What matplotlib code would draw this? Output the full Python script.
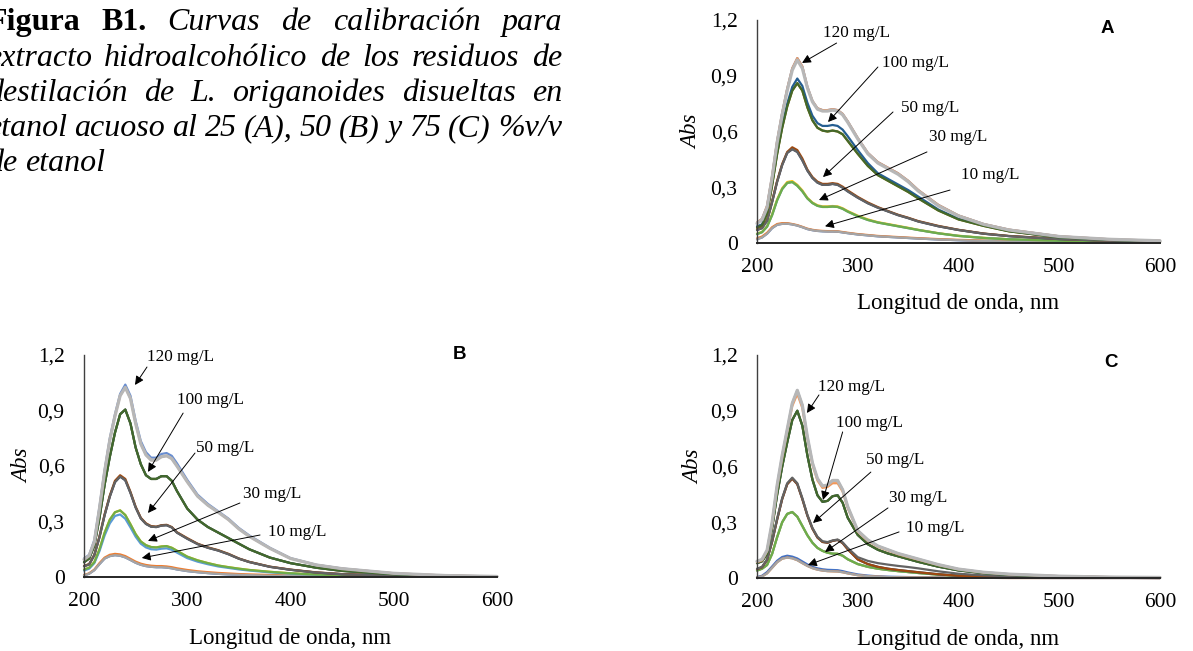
import matplotlib
matplotlib.use("Agg")
import matplotlib.pyplot as plt

# ---------------- data ----------------
WL = [200, 205, 210, 215, 220, 225, 230, 235, 240, 245, 250, 255, 260, 265, 270, 275, 280, 285, 290,
      300, 310, 320, 330, 340, 350, 360, 380, 400, 425, 450, 500, 550, 600]

CONC_LABELS = ["10 mg/L", "30 mg/L", "50 mg/L", "100 mg/L", "120 mg/L"]
YTICKS = [0, 0.3, 0.6, 0.9, 1.2]
YTICK_LABELS = ["0", "0,3", "0,6", "0,9", "1,2"]
XTICKS = [200, 300, 400, 500, 600]

# Panel A (25 % v/v)
A120_a = [0.11, 0.13, 0.20, 0.36, 0.55, 0.70, 0.83, 0.94, 0.995, 0.95, 0.84, 0.765, 0.725, 0.715, 0.715, 0.72, 0.715, 0.695, 0.655,
          0.565, 0.485, 0.435, 0.405, 0.375, 0.335, 0.285, 0.205, 0.148, 0.102, 0.072, 0.036, 0.02, 0.012]
A120_b = [0.105, 0.125, 0.19, 0.35, 0.54, 0.69, 0.82, 0.93, 0.985, 0.94, 0.835, 0.76, 0.72, 0.71, 0.71, 0.715, 0.71, 0.69, 0.65,
          0.56, 0.48, 0.43, 0.40, 0.37, 0.33, 0.28, 0.20, 0.145, 0.10, 0.07, 0.035, 0.02, 0.012]
A100_a = [0.09, 0.10, 0.17, 0.32, 0.49, 0.63, 0.75, 0.84, 0.885, 0.845, 0.755, 0.685, 0.645, 0.63, 0.63, 0.635, 0.63, 0.61, 0.575,
          0.50, 0.43, 0.375, 0.345, 0.315, 0.285, 0.25, 0.18, 0.13, 0.095, 0.065, 0.03, 0.017, 0.01]
A100_b = [0.085, 0.095, 0.16, 0.31, 0.48, 0.62, 0.735, 0.82, 0.86, 0.82, 0.73, 0.66, 0.62, 0.605, 0.60, 0.605, 0.60, 0.585, 0.55,
          0.48, 0.415, 0.365, 0.335, 0.305, 0.275, 0.24, 0.175, 0.127, 0.092, 0.063, 0.03, 0.017, 0.01]
A50_a = [0.075, 0.085, 0.125, 0.225, 0.335, 0.425, 0.49, 0.515, 0.50, 0.455, 0.395, 0.355, 0.33, 0.318, 0.318, 0.322, 0.318, 0.303, 0.283,
         0.248, 0.218, 0.193, 0.172, 0.152, 0.136, 0.118, 0.092, 0.071, 0.051, 0.038, 0.022, 0.012, 0.008]
A50_b = [0.07, 0.08, 0.12, 0.22, 0.33, 0.42, 0.485, 0.505, 0.49, 0.445, 0.39, 0.35, 0.325, 0.313, 0.313, 0.318, 0.313, 0.298, 0.278,
         0.244, 0.214, 0.19, 0.17, 0.15, 0.134, 0.116, 0.09, 0.07, 0.05, 0.037, 0.021, 0.012, 0.008]
A30_a = [0.05, 0.06, 0.09, 0.155, 0.235, 0.295, 0.328, 0.333, 0.313, 0.283, 0.243, 0.218, 0.203, 0.197, 0.197, 0.199, 0.197, 0.187, 0.172,
         0.147, 0.127, 0.112, 0.102, 0.092, 0.082, 0.071, 0.053, 0.039, 0.028, 0.02, 0.012, 0.007, 0.005]
A30_b = [0.048, 0.058, 0.088, 0.15, 0.23, 0.29, 0.323, 0.328, 0.308, 0.278, 0.24, 0.215, 0.2, 0.194, 0.194, 0.196, 0.194, 0.184, 0.169,
         0.144, 0.124, 0.11, 0.1, 0.09, 0.08, 0.07, 0.052, 0.038, 0.027, 0.02, 0.012, 0.007, 0.005]
A10_a = [0.025, 0.035, 0.055, 0.085, 0.102, 0.107, 0.107, 0.102, 0.096, 0.087, 0.077, 0.071, 0.067, 0.065, 0.064, 0.064, 0.063, 0.059, 0.055,
         0.048, 0.043, 0.038, 0.035, 0.032, 0.029, 0.026, 0.021, 0.017, 0.013, 0.01, 0.006, 0.004, 0.003]
A10_b = [0.02, 0.03, 0.05, 0.08, 0.098, 0.103, 0.104, 0.1, 0.094, 0.085, 0.075, 0.069, 0.065, 0.063, 0.062, 0.062, 0.061, 0.057, 0.053,
         0.046, 0.041, 0.036, 0.033, 0.03, 0.027, 0.024, 0.019, 0.015, 0.011, 0.008, 0.005, 0.003, 0.002]

# Panel B (50 % v/v)
B120_a = [0.10, 0.12, 0.20, 0.38, 0.58, 0.75, 0.88, 0.99, 1.04, 0.98, 0.845, 0.735, 0.675, 0.645, 0.645, 0.665, 0.67, 0.655, 0.615,
          0.525, 0.445, 0.395, 0.355, 0.315, 0.265, 0.225, 0.158, 0.102, 0.066, 0.046, 0.02, 0.008, 0.003]
B120_b = [0.095, 0.115, 0.19, 0.37, 0.57, 0.74, 0.87, 0.98, 1.025, 0.965, 0.83, 0.72, 0.66, 0.632, 0.632, 0.65, 0.655, 0.64, 0.60,
          0.515, 0.437, 0.388, 0.35, 0.31, 0.26, 0.22, 0.155, 0.10, 0.065, 0.045, 0.02, 0.008, 0.003]
B100_a = [0.08, 0.10, 0.17, 0.32, 0.50, 0.65, 0.78, 0.88, 0.905, 0.83, 0.70, 0.61, 0.55, 0.53, 0.53, 0.545, 0.545, 0.52, 0.465,
          0.37, 0.31, 0.27, 0.24, 0.21, 0.18, 0.15, 0.105, 0.075, 0.05, 0.033, 0.015, 0.006, 0.003]
B50_a = [0.06, 0.07, 0.12, 0.22, 0.34, 0.44, 0.52, 0.55, 0.53, 0.46, 0.38, 0.32, 0.29, 0.275, 0.272, 0.28, 0.282, 0.27, 0.242,
         0.21, 0.18, 0.16, 0.145, 0.125, 0.10, 0.082, 0.056, 0.04, 0.025, 0.016, 0.008, 0.004, 0.002]
B50_b = [0.058, 0.068, 0.118, 0.215, 0.335, 0.435, 0.513, 0.543, 0.523, 0.455, 0.376, 0.317, 0.287, 0.272, 0.27, 0.278, 0.28, 0.268, 0.24,
         0.207, 0.178, 0.158, 0.143, 0.123, 0.099, 0.081, 0.055, 0.039, 0.024, 0.015, 0.007, 0.003, 0.002]
B30_a = [0.04, 0.05, 0.08, 0.15, 0.24, 0.31, 0.35, 0.36, 0.335, 0.285, 0.232, 0.192, 0.172, 0.162, 0.16, 0.165, 0.167, 0.158, 0.142,
         0.11, 0.09, 0.075, 0.062, 0.053, 0.045, 0.038, 0.028, 0.02, 0.013, 0.009, 0.005, 0.003, 0.002]
B30_b = [0.035, 0.045, 0.075, 0.14, 0.225, 0.29, 0.33, 0.338, 0.315, 0.268, 0.218, 0.18, 0.16, 0.15, 0.148, 0.153, 0.155, 0.147, 0.132,
         0.102, 0.083, 0.069, 0.057, 0.049, 0.041, 0.035, 0.025, 0.018, 0.012, 0.008, 0.004, 0.002, 0.001]
B10_a = [0.01, 0.02, 0.04, 0.075, 0.105, 0.12, 0.125, 0.122, 0.113, 0.098, 0.083, 0.072, 0.065, 0.061, 0.059, 0.059, 0.057, 0.053, 0.047,
         0.038, 0.031, 0.026, 0.022, 0.019, 0.016, 0.014, 0.011, 0.008, 0.006, 0.004, 0.003, 0.002, 0.001]
B10_b = [0.008, 0.018, 0.037, 0.07, 0.10, 0.113, 0.118, 0.115, 0.106, 0.092, 0.077, 0.066, 0.059, 0.055, 0.053, 0.053, 0.051, 0.047, 0.041,
         0.032, 0.026, 0.021, 0.017, 0.014, 0.012, 0.01, 0.007, 0.005, 0.004, 0.003, 0.002, 0.001, 0.001]

# Panel C (75 % v/v)
C120_a = [0.09, 0.10, 0.15, 0.30, 0.50, 0.66, 0.80, 0.94, 1.01, 0.93, 0.76, 0.62, 0.535, 0.495, 0.50, 0.525, 0.525, 0.475, 0.385,
          0.255, 0.205, 0.172, 0.152, 0.132, 0.117, 0.102, 0.072, 0.048, 0.031, 0.021, 0.01, 0.005, 0.003]
C120_b = [0.085, 0.095, 0.145, 0.29, 0.49, 0.65, 0.79, 0.925, 0.99, 0.915, 0.75, 0.61, 0.525, 0.485, 0.49, 0.51, 0.51, 0.465, 0.377,
          0.25, 0.20, 0.168, 0.148, 0.128, 0.113, 0.099, 0.07, 0.047, 0.03, 0.02, 0.01, 0.005, 0.003]
C100_a = [0.08, 0.09, 0.13, 0.27, 0.45, 0.60, 0.73, 0.85, 0.90, 0.82, 0.66, 0.53, 0.445, 0.41, 0.415, 0.44, 0.445, 0.405, 0.325,
          0.232, 0.182, 0.152, 0.132, 0.117, 0.102, 0.087, 0.061, 0.041, 0.026, 0.017, 0.008, 0.004, 0.002]
C50_a = [0.05, 0.06, 0.10, 0.20, 0.32, 0.43, 0.51, 0.54, 0.51, 0.43, 0.34, 0.27, 0.222, 0.198, 0.193, 0.202, 0.207, 0.192, 0.162,
         0.112, 0.092, 0.08, 0.072, 0.065, 0.059, 0.052, 0.036, 0.023, 0.014, 0.009, 0.004, 0.002, 0.001]
C50_b = [0.048, 0.058, 0.098, 0.196, 0.315, 0.425, 0.505, 0.535, 0.505, 0.425, 0.336, 0.266, 0.218, 0.194, 0.19, 0.20, 0.205, 0.188, 0.155,
         0.10, 0.075, 0.06, 0.05, 0.043, 0.037, 0.031, 0.02, 0.012, 0.007, 0.004, 0.002, 0.001, 0.0]
C30_a = [0.04, 0.05, 0.07, 0.13, 0.22, 0.30, 0.345, 0.355, 0.33, 0.28, 0.23, 0.19, 0.162, 0.146, 0.136, 0.131, 0.13, 0.12, 0.101,
         0.075, 0.06, 0.05, 0.043, 0.037, 0.032, 0.027, 0.018, 0.012, 0.007, 0.005, 0.003, 0.002, 0.001]
C10_a = [0.005, 0.012, 0.032, 0.062, 0.093, 0.113, 0.12, 0.115, 0.105, 0.089, 0.073, 0.06, 0.052, 0.047, 0.044, 0.043, 0.042, 0.037, 0.03,
         0.019, 0.013, 0.009, 0.007, 0.006, 0.005, 0.004, 0.003, 0.002, 0.001, 0.001, 0.0, 0.0, 0.0]
C10_b = [0.003, 0.008, 0.025, 0.055, 0.085, 0.104, 0.11, 0.106, 0.096, 0.08, 0.065, 0.053, 0.045, 0.04, 0.037, 0.036, 0.035, 0.031, 0.025,
         0.015, 0.01, 0.007, 0.005, 0.004, 0.003, 0.003, 0.002, 0.001, 0.001, 0.0, 0.0, 0.0, 0.0]

# 15 series per panel (3 replicates x 5 concentrations), in drawing order
SERIES_A = [A10_b, A10_a, A10_b, A30_a, A30_b, A30_b, A50_b, A50_a, A50_b, A100_b, A100_a, A100_b, A120_a, A120_a, A120_b]
SERIES_B = [B10_b, B10_a, B10_b, B30_a, B30_b, B30_a, B50_b, B50_a, B50_b, B100_a, B100_a, B100_a, B120_a, B120_b, B120_b]
SERIES_C = [C10_a, C10_b, C10_b, C30_a, C30_a, C30_a, C50_b, C50_b, C50_a, C100_a, C100_a, C100_a, C120_a, C120_b, C120_a]

# Excel office palette
COLORS = ["#4472C4", "#ED7D31", "#A5A5A5", "#FFC000", "#5B9BD5", "#70AD47", "#264478", "#9E480E",
          "#636363", "#997300", "#255E91", "#43682B", "#698ED0", "#F1975A", "#B7B7B7"]

SERIF = "Liberation Serif"
W, H = 1193, 651

fig = plt.figure(figsize=(W / 100, H / 100), dpi=100)


def px_rect(left, right, top, bottom):
    return [left / W, 1 - bottom / H, (right - left) / W, (bottom - top) / H]


def draw_panel(rect, series, letter, letter_xy, ann, xlab_y, ylab_x):
    ax = fig.add_axes(rect)
    for i, ys in enumerate(series):
        lw = 2.3 if i == 14 else 1.6
        ax.plot(WL, ys, color=COLORS[i], lw=lw, clip_on=False,
                solid_joinstyle="round", solid_capstyle="round", zorder=2 + i * 0.01)
    ax.set_xlim(200, 600)
    ax.set_ylim(0, 1.2)
    ax.set_xticks(XTICKS)
    ax.set_xticklabels([str(v) for v in XTICKS], fontfamily=SERIF, fontsize=15.5)
    ax.set_yticks(YTICKS)
    ax.set_yticklabels(YTICK_LABELS, fontfamily=SERIF, fontsize=15.5)
    ax.tick_params(axis="both", length=0)
    ax.tick_params(axis="x", pad=11)
    ax.tick_params(axis="y", pad=14)
    for s in ("top", "right"):
        ax.spines[s].set_visible(False)
    ax.spines["left"].set_color("#404040")
    ax.spines["left"].set_linewidth(1.0)
    ax.spines["bottom"].set_color("#262626")
    ax.spines["bottom"].set_linewidth(1.4)
    ax.spines["bottom"].set_zorder(5)
    ax.set_xlabel("Longitud de onda, nm", fontfamily=SERIF, fontsize=16.5)
    ax.xaxis.set_label_coords(0.5, xlab_y)
    ax.xaxis.label.set_va("center")
    ax.set_ylabel("Abs", fontfamily=SERIF, fontsize=16.5, style="italic")
    ax.yaxis.set_label_coords(ylab_x, 0.5)
    ax.yaxis.label.set_va("center")
    ax.text(letter_xy[0], letter_xy[1], letter, fontfamily="Liberation Sans", fontweight="bold",
            fontsize=13.5, ha="center", va="center")
    for label, txt_xy, tail, tip in zip(CONC_LABELS[::-1], ann[0], ann[1], ann[2]):
        ax.annotate("", xy=tip, xytext=tail,
                    arrowprops=dict(arrowstyle="-|>", color="black", lw=0.7,
                                    mutation_scale=13, shrinkA=0, shrinkB=0), zorder=10)
        ax.text(txt_xy[0], txt_xy[1], label, fontfamily=SERIF, fontsize=12.3,
                ha="center", va="center", zorder=11)
    return ax


# annotation geometry (data coords): label centres, arrow tails, arrow tips (120, 100, 50, 30, 10)
ANN_A = ([(299, 1.13), (357, 0.969), (372, 0.727), (399.5, 0.571), (431, 0.366)],
         [(279, 1.076), (320, 0.947), (335, 0.705), (368.7, 0.49), (391.6, 0.285)],
         [(244.7, 0.969), (270.5, 0.651), (265.5, 0.355), (261.5, 0.231), (267.5, 0.09)])
ANN_B = ([(293, 1.189), (322, 0.957), (336.6, 0.697), (382, 0.449), (406, 0.243)],
         [(261, 1.135), (296, 0.886), (307.5, 0.67), (351, 0.40), (370.5, 0.227)],
         [(249.4, 1.038), (262, 0.568), (262, 0.346), (262, 0.195), (256, 0.103)])
ANN_C = ([(294, 1.028), (312, 0.834), (337, 0.635), (360, 0.43), (376.7, 0.269)],
         [(261.5, 0.985), (285, 0.786), (313, 0.57), (330, 0.377), (341, 0.248)],
         [(249.6, 0.888), (265.5, 0.42), (255.6, 0.296), (267.5, 0.14), (250.6, 0.07)])

draw_panel(px_rect(757, 1160, 20, 243), SERIES_A, "A", (548, 1.152), ANN_A, -0.27, -0.161)
draw_panel(px_rect(84, 497, 355, 577), SERIES_B, "B", (564, 1.20), ANN_B, -0.275, -0.148)
draw_panel(px_rect(757, 1160, 355, 578), SERIES_C, "C", (551, 1.157), ANN_C, -0.278, -0.158)

# ---------------- caption (justified) ----------------
CAP_SIZE = 23
CAP_LEFT, CAP_RIGHT = -13, 562
bold = dict(fontweight="bold", style="normal")
ital = dict(fontweight="normal", style="italic")
CAPTION = [
    ([("Figura", bold), ("B1.", bold), ("Curvas", ital), ("de", ital), ("calibración", ital), ("para", ital)], 30, True),
    ([(w, ital) for w in "extracto hidroalcohólico de los residuos de".split()], 66, True),
    ([(w, ital) for w in "destilación de L. origanoides disueltas en".split()], 101, True),
    ([(w, ital) for w in "etanol acuoso al 25 (A), 50 (B) y 75 (C) %v/v".split()], 136, True),
    ([(w, ital) for w in "de etanol".split()], 171, False),
]

renderer = fig.canvas.get_renderer()
for words, base_px, justify in CAPTION:
    texts = [fig.text(0, 1 - base_px / H, w, fontfamily=SERIF, fontsize=CAP_SIZE,
                      ha="left", va="baseline", **st) for w, st in words]
    widths = [t.get_window_extent(renderer=renderer).width for t in texts]
    if justify:
        gap = (CAP_RIGHT - CAP_LEFT - sum(widths)) / (len(texts) - 1)
    else:
        gap = CAP_SIZE * 100 / 72 * 0.25
    x = CAP_LEFT
    for t, w in zip(texts, widths):
        t.set_x(x / W)
        x += w + gap

fig.savefig("out.png", dpi=100)
